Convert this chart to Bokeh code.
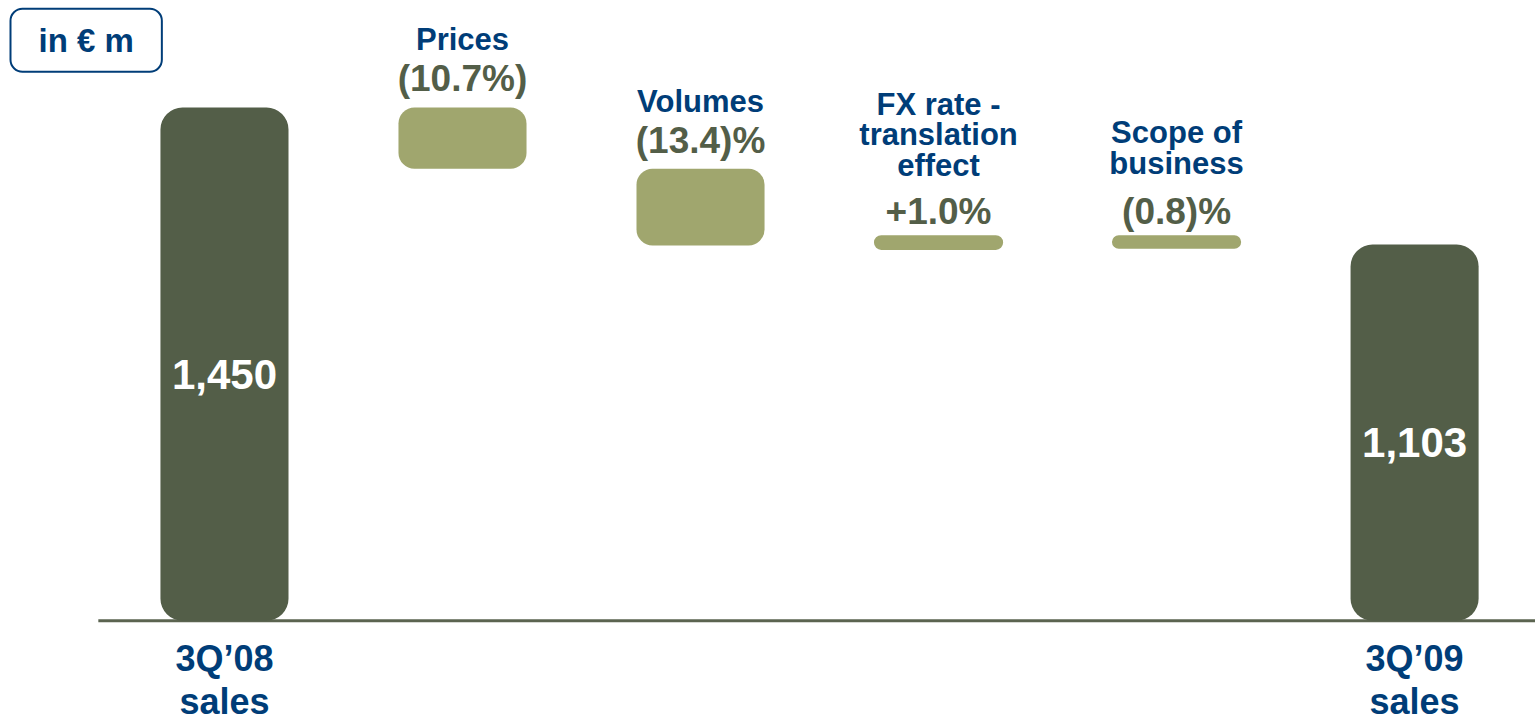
from bokeh.plotting import figure
from bokeh.models import Range1d, Label
from bokeh.embed import file_html
from bokeh.resources import INLINE
from bokeh.core.properties import value

# ---------------- data ----------------
total_names = ["3Q’08\nsales", "3Q’09\nsales"]
total_values = [1450, 1103]
total_labels = ["1,450", "1,103"]
driver_names = ["Prices", "Volumes", "FX rate -\ntranslation\neffect", "Scope of\nbusiness"]
driver_pct = [-10.7, -13.4, 1.0, -0.8]
driver_pct_labels = ["(10.7%)", "(13.4)%", "+1.0%", "(0.8)%"]
unit_label = "in € m"

# ---------------- styling ----------------
AXIS_BASE = 150          # value axis is broken: bars start at this level
W, H = 1535, 722
DARK = "#535E48"
LIGHT = "#A0A66E"
NAVY = "#003D78"
FONT = "Liberation Sans"
NAME_OFFSETS = [-50, -50, -57, -59]

# ---------------- derived waterfall geometry ----------------
deltas = [total_values[0] * pc / 100.0 for pc in driver_pct]
levels = [total_values[0]]
for d in deltas:
    levels.append(levels[-1] + d)
drv_x = [i + 1 for i in range(len(deltas))]
drv_top = [max(levels[i], levels[i + 1]) for i in range(len(deltas))]
drv_bot = [min(levels[i], levels[i + 1]) for i in range(len(deltas))]
tot_x = [0, len(deltas) + 1]

p = figure(width=W, height=H, output_backend="svg", toolbar_location=None,
           x_range=Range1d(-0.941, 5.508), y_range=Range1d(-108, 1721),
           x_axis_location=None, y_axis_location=None, min_border=0,
           outline_line_color=None)
p.grid.visible = False
p.background_fill_color = "white"
p.border_fill_color = "white"

# baseline
p.segment(x0=[-0.53], x1=[6.0], y0=[AXIS_BASE], y1=[AXIS_BASE], line_color="#5B6450", line_width=3)

# total bars
p.vbar(x=tot_x, top=total_values, bottom=AXIS_BASE, width=0.538, fill_color=DARK,
       line_color=None, border_radius=22)

# driver bars: big and thin ones
big = [i for i, d in enumerate(deltas) if abs(d) > 50]
thin = [i for i, d in enumerate(deltas) if abs(d) <= 50]
p.vbar(x=[drv_x[i] for i in big], top=[drv_top[i] for i in big], bottom=[drv_bot[i] for i in big],
       width=0.538, fill_color=LIGHT, line_color=None, border_radius=16)
p.vbar(x=[drv_x[i] for i in thin], top=[drv_top[i] for i in thin], bottom=[drv_bot[i] for i in thin],
       width=0.505, fill_color=LIGHT, line_color=LIGHT, line_width=9, border_radius=3)

# value labels inside total bars
p.text(x=tot_x, y=[(AXIS_BASE + v) / 2 for v in total_values], text=total_labels,
       text_color="white", text_font=value(FONT), text_font_style="bold", text_font_size="42px",
       text_align="center", text_baseline="middle", y_offset=10)

# total category labels below baseline
p.text(x=tot_x, y=[AXIS_BASE] * 2, text=total_names, text_color=NAVY, text_font=value(FONT),
       text_font_style="bold", text_font_size="36px", text_align="center", text_baseline="top",
       text_line_height=1.05, y_offset=17)

# percentage labels above driver bars
p.text(x=drv_x, y=drv_top, text=driver_pct_labels, text_color=DARK, text_font=value(FONT),
       text_font_style="bold", text_font_size="37px", text_align="center", text_baseline="bottom",
       y_offset=-8)

# driver names
p.text(x=drv_x, y=drv_top, text=driver_names, text_color=NAVY, text_font=value(FONT),
       text_font_style="bold", text_font_size="31px", text_align="center", text_baseline="bottom",
       text_line_height=0.87, y_offset=NAME_OFFSETS)

# unit box
p.add_layout(Label(x=-0.899, y=1700, text=unit_label, anchor="top_left",
                   text_color=NAVY, text_font=FONT, text_font_style="bold", text_font_size="33px",
                   border_line_color=NAVY, border_line_width=2, border_radius=12,
                   background_fill_color="white",
                   padding=dict(left=28, right=28, top=13, bottom=13)))

open("out.html", "w").write(file_html(p, INLINE))
